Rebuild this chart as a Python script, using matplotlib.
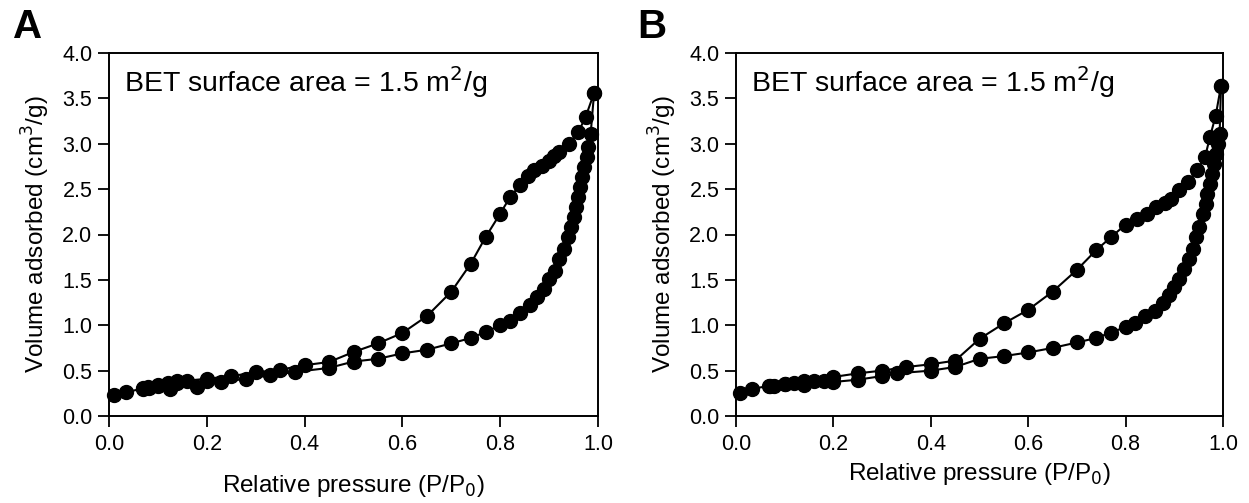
import numpy as np
import matplotlib
matplotlib.use('Agg')
import matplotlib.pyplot as plt

plt.rcParams['font.family'] = ['Liberation Sans', 'DejaVu Sans']

# Panel A: adsorption branch (lower), desorption branch (upper)
a_ads_x = [0.01, 0.035, 0.069, 0.081, 0.10, 0.125, 0.14, 0.18, 0.20, 0.23, 0.28, 0.33, 0.38, 0.45,
           0.50, 0.55, 0.60, 0.65, 0.70, 0.74, 0.77, 0.80, 0.82, 0.84, 0.86, 0.875, 0.89, 0.90,
           0.913, 0.92, 0.93, 0.938, 0.944, 0.95, 0.956, 0.96, 0.964, 0.968, 0.972, 0.977, 0.98,
           0.985, 0.992]
a_ads_y = [0.23, 0.265, 0.30, 0.31, 0.33, 0.30, 0.36, 0.32, 0.39, 0.375, 0.41, 0.45, 0.485, 0.53,
           0.60, 0.63, 0.69, 0.73, 0.80, 0.86, 0.925, 1.0, 1.05, 1.13, 1.22, 1.31, 1.40, 1.51,
           1.60, 1.73, 1.84, 1.97, 2.08, 2.19, 2.30, 2.41, 2.52, 2.63, 2.74, 2.85, 2.96,
           3.11, 3.56]
a_des_x = [0.992, 0.975, 0.96, 0.94, 0.92, 0.91, 0.90, 0.885, 0.87, 0.857, 0.84, 0.82, 0.80, 0.77,
           0.74, 0.70, 0.65, 0.60, 0.55, 0.50, 0.45, 0.40, 0.35, 0.30, 0.25, 0.20, 0.16, 0.14,
           0.12, 0.10, 0.08, 0.07]
a_des_y = [3.56, 3.30, 3.13, 3.00, 2.91, 2.86, 2.81, 2.76, 2.71, 2.65, 2.54, 2.41, 2.23, 1.97,
           1.68, 1.37, 1.10, 0.915, 0.80, 0.705, 0.595, 0.56, 0.51, 0.48, 0.44, 0.41, 0.39, 0.385,
           0.36, 0.34, 0.32, 0.31]

# Panel B
b_ads_x = [0.008, 0.033, 0.067, 0.078, 0.10, 0.12, 0.14, 0.16, 0.18, 0.20, 0.25, 0.30, 0.33, 0.40,
           0.45, 0.50, 0.55, 0.60, 0.65, 0.70, 0.74, 0.77, 0.80, 0.82, 0.84, 0.86, 0.876, 0.89,
           0.90, 0.91, 0.92, 0.93, 0.938, 0.945, 0.95, 0.959, 0.965, 0.968, 0.973, 0.977, 0.981,
           0.985, 0.99, 0.993, 0.996]
b_ads_y = [0.25, 0.30, 0.33, 0.33, 0.35, 0.365, 0.34, 0.39, 0.39, 0.375, 0.40, 0.44, 0.47, 0.50,
           0.54, 0.63, 0.66, 0.70, 0.75, 0.81, 0.86, 0.92, 0.98, 1.02, 1.10, 1.16, 1.24, 1.33,
           1.42, 1.51, 1.62, 1.73, 1.84, 1.97, 2.08, 2.23, 2.34, 2.45, 2.56, 2.67, 2.78,
           2.89, 3.00, 3.11, 3.64]
b_des_x = [0.996, 0.985, 0.973, 0.963, 0.947, 0.928, 0.91, 0.893, 0.88, 0.862, 0.844, 0.823, 0.80,
           0.77, 0.74, 0.70, 0.65, 0.60, 0.55, 0.50, 0.45, 0.40, 0.35, 0.30, 0.25, 0.20, 0.14,
           0.10, 0.07]
b_des_y = [3.64, 3.31, 3.07, 2.85, 2.71, 2.58, 2.49, 2.39, 2.35, 2.30, 2.23, 2.17, 2.11,
           1.97, 1.83, 1.61, 1.37, 1.17, 1.02, 0.85, 0.61, 0.57, 0.54, 0.50, 0.47, 0.43, 0.39,
           0.35, 0.33]

xticks = [0.0, 0.2, 0.4, 0.6, 0.8, 1.0]
yticks = [0.0, 0.5, 1.0, 1.5, 2.0, 2.5, 3.0, 3.5, 4.0]
annot = 'BET surface area = 1.5 m$^{2}$/g'

W, H = 1249, 503
fig = plt.figure(figsize=(W / 100, H / 100), dpi=100)
ax_a = fig.add_axes([109 / W, 87 / H, 489 / W, 363 / H])
ax_b = fig.add_axes([736 / W, 87 / H, 487 / W, 363 / H])


def draw(ax, ads_x, ads_y, des_x, des_y, xlab_pad):
    for xs, ys in [(ads_x, ads_y), (des_x, des_y)]:
        ax.plot(xs, ys, '-o', color='black', lw=1.5, ms=10, mec='black', mfc='black',
                clip_on=False, zorder=3)
    ax.set_xlim(0, 1.0)
    ax.set_ylim(0, 4.0)
    ax.set_xticks(xticks)
    ax.set_yticks(yticks)
    ax.set_xticklabels(['%.1f' % v for v in xticks])
    ax.set_yticklabels(['%.1f' % v for v in yticks])
    ax.tick_params(direction='out', length=8, width=1.3, labelsize=15.5)
    ax.tick_params(axis='x', pad=5)
    ax.tick_params(axis='y', pad=4)
    for s in ax.spines.values():
        s.set_linewidth(1.4)
    ax.set_xlabel('Relative pressure (P/P$_0$)', fontsize=17.5, labelpad=xlab_pad)
    ax.set_ylabel('Volume adsorbed (cm$^3$/g)', fontsize=17.5, labelpad=7)
    ax.text(0.03, 3.68, annot, fontsize=20.5, va='center', ha='left')


draw(ax_a, a_ads_x, a_ads_y, a_des_x, a_des_y, 13)
draw(ax_b, b_ads_x, b_ads_y, b_des_x, b_des_y, 4)

fig.text(13 / W, 1 - 8 / H, 'A', fontsize=29, fontweight='bold', va='top', ha='left')
fig.text(637 / W, 1 - 8 / H, 'B', fontsize=29, fontweight='bold', va='top', ha='left')

fig.savefig('out.png', dpi=100)
